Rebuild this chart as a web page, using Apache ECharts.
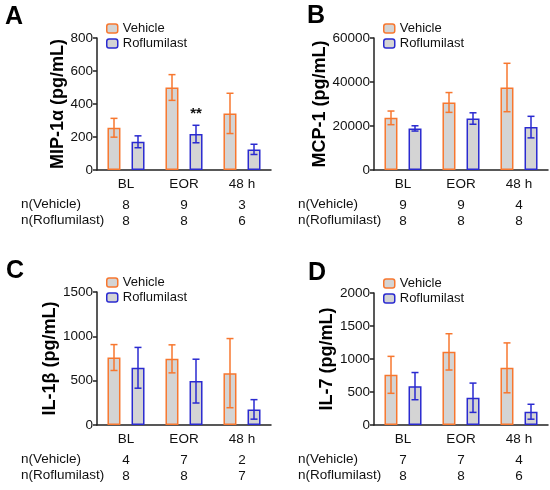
<!DOCTYPE html>
<html>
<head>
<meta charset="utf-8">
<script src="https://cdn.jsdelivr.net/npm/echarts@6/dist/echarts.min.js"></script>
<style>
  html, body { margin: 0; padding: 0; background: #fff; }
  #chart { width: 550px; height: 490px; }
</style>
</head>
<body>
<div id="chart"></div>
<script>
  // categories and values (mean, SEM)
  const cats = ['BL', 'EOR', '48 h']

  const mipVeh = [256, 500, 343]
  const mipVehErr = [57, 78, 122]
  const mipRof = [171, 218, 125]
  const mipRofErr = [36, 53, 31]
  const mipNVeh = [8, 9, 3]
  const mipNRof = [8, 8, 6]

  const mcpVeh = [23700, 30700, 37500]
  const mcpVehErr = [3100, 4500, 11000]
  const mcpRof = [18900, 23400, 19500]
  const mcpRofErr = [1200, 2600, 4900]
  const mcpNVeh = [9, 9, 4]
  const mcpNRof = [8, 8, 8]

  const il1Veh = [761, 746, 585]
  const il1VehErr = [146, 158, 390]
  const il1Rof = [645, 495, 176]
  const il1RofErr = [230, 247, 110]
  const il1NVeh = [4, 7, 2]
  const il1NRof = [8, 8, 7]

  const il7Veh = [760, 1108, 866]
  const il7VehErr = [280, 275, 378]
  const il7Rof = [589, 413, 201]
  const il7RofErr = [206, 222, 113]
  const il7NVeh = [7, 7, 4]
  const il7NRof = [8, 8, 6]

  const ORANGE = '#f7772f'
  const BLUE = '#2a2ad0'
  const GRAY = '#d4d4d4'
  const FONT = 'Arial, "Liberation Sans", sans-serif'

  const panels = [
    { tag: 'A', name: 'MIP-1α (pg/mL)', veh: mipVeh, vehErr: mipVehErr, rof: mipRof, rofErr: mipRofErr,
      nVeh: mipNVeh, nRof: mipNRof, max: 800, step: 200, sig: { 1: '**' },
      left: 97, top: 38, width: 174, height: 132, nameGap: 30, tagX: 5, tagY: 5 },
    { tag: 'B', name: 'MCP-1 (pg/mL)', veh: mcpVeh, vehErr: mcpVehErr, rof: mcpRof, rofErr: mcpRofErr,
      nVeh: mcpNVeh, nRof: mcpNRof, max: 60000, step: 20000, sig: {},
      left: 374, top: 38, width: 174, height: 132, nameGap: 38, tagX: 307, tagY: 4 },
    { tag: 'C', name: 'IL-1β (pg/mL)', veh: il1Veh, vehErr: il1VehErr, rof: il1Rof, rofErr: il1RofErr,
      nVeh: il1NVeh, nRof: il1NRof, max: 1500, step: 500, sig: {},
      left: 97, top: 292, width: 174, height: 133, nameGap: 30, tagX: 6, tagY: 259 },
    { tag: 'D', name: 'IL-7 (pg/mL)', veh: il7Veh, vehErr: il7VehErr, rof: il7Rof, rofErr: il7RofErr,
      nVeh: il7NVeh, nRof: il7NRof, max: 2000, step: 500, sig: {},
      left: 374, top: 293, width: 174, height: 132, nameGap: 38, tagX: 308, tagY: 261 }
  ]

  const OFFSET = 12

  function errRender (offset, color) {
    return function (params, api) {
      const x = api.value(0)
      const lo = api.coord([x, api.value(1)])
      const hi = api.coord([x, api.value(2)])
      const cx = lo[0] + offset
      const w = 3.5
      const style = { stroke: color, lineWidth: 1.5 }
      return {
        type: 'group',
        children: [
          { type: 'line', shape: { x1: cx, y1: hi[1], x2: cx, y2: lo[1] }, style },
          { type: 'line', shape: { x1: cx - w, y1: hi[1], x2: cx + w, y2: hi[1] }, style },
          { type: 'line', shape: { x1: cx - w, y1: lo[1], x2: cx + w, y2: lo[1] }, style }
        ]
      }
    }
  }

  const grid = []
  const xAxis = []
  const yAxis = []
  const series = []
  const legend = []
  const title = []
  const graphic = []

  panels.forEach((p, i) => {
    grid.push({ left: p.left, top: p.top, width: p.width, height: p.height })

    xAxis.push({
      type: 'category',
      gridIndex: i,
      data: cats,
      axisLine: { lineStyle: { color: '#222', width: 1.5 } },
      axisTick: { alignWithLabel: true, length: 4, lineStyle: { color: '#222', width: 1.5 } },
      axisLabel: {
        margin: 1,
        interval: 0,
        formatter: (v, idx) => `{c|${v}}\n{n|${p.nVeh[idx]}}\n{n|${p.nRof[idx]}}`,
        rich: {
          c: { fontFamily: FONT, fontSize: 13.5, color: '#111', lineHeight: 26 },
          n: { fontFamily: FONT, fontSize: 13.5, color: '#111', lineHeight: 16 }
        }
      }
    })

    yAxis.push({
      type: 'value',
      gridIndex: i,
      min: 0,
      max: p.max,
      interval: p.step,
      name: p.name,
      nameLocation: 'middle',
      nameGap: p.nameGap,
      nameTextStyle: { fontFamily: FONT, fontSize: 18, fontWeight: 'bold', color: '#000' },
      axisLine: { show: true, lineStyle: { color: '#222', width: 1.5 } },
      axisTick: { show: true, length: 4, lineStyle: { color: '#222', width: 1.5 } },
      axisLabel: { fontFamily: FONT, fontSize: 13.5, color: '#111', margin: 4, formatter: v => String(v) },
      splitLine: { show: false }
    })

    series.push({
      name: 'Vehicle',
      type: 'bar',
      xAxisIndex: i,
      yAxisIndex: i,
      barWidth: 13,
      barGap: '85%',
      data: p.veh,
      itemStyle: { color: GRAY, borderColor: ORANGE, borderWidth: 1.5 },
      emphasis: { disabled: true }
    })
    series.push({
      name: 'Roflumilast',
      type: 'bar',
      xAxisIndex: i,
      yAxisIndex: i,
      barWidth: 13,
      barGap: '85%',
      data: p.rof.map((v, k) => p.sig[k]
        ? { value: v, label: { show: true, position: 'top', distance: 13, formatter: p.sig[k],
            fontFamily: FONT, fontSize: 15, fontWeight: 'bold', color: '#111' } }
        : v),
      itemStyle: { color: GRAY, borderColor: BLUE, borderWidth: 1.5 },
      emphasis: { disabled: true }
    })
    series.push({
      type: 'custom',
      xAxisIndex: i,
      yAxisIndex: i,
      z: 5,
      renderItem: errRender(-OFFSET, ORANGE),
      data: p.veh.map((v, k) => [k, v - p.vehErr[k], v + p.vehErr[k]])
    })
    series.push({
      type: 'custom',
      xAxisIndex: i,
      yAxisIndex: i,
      z: 5,
      renderItem: errRender(OFFSET, BLUE),
      data: p.rof.map((v, k) => [k, v - p.rofErr[k], v + p.rofErr[k]])
    })

    legend.push({
      orient: 'vertical',
      left: p.left + 9,
      top: p.top - 16,
      padding: 0,
      itemWidth: 11,
      itemHeight: 9,
      itemGap: 2,
      selectedMode: false,
      textStyle: { fontFamily: FONT, fontSize: 13, color: '#111' },
      data: [
        { name: 'Vehicle', itemStyle: { color: GRAY, borderColor: ORANGE, borderWidth: 1.5 } },
        { name: 'Roflumilast', itemStyle: { color: GRAY, borderColor: BLUE, borderWidth: 1.5 } }
      ]
    })

    title.push({
      text: p.tag,
      left: p.tagX,
      top: p.tagY,
      padding: 0,
      textStyle: { fontFamily: FONT, fontSize: 25, fontWeight: 'bold', color: '#000' }
    })

    const rowX = p.left - 76
    const rowY = p.top + p.height + 34
    graphic.push(
      { type: 'text', left: rowX, top: rowY - 7,
        style: { text: 'n(Vehicle)', font: `13.5px ${FONT}`, fill: '#111' } },
      { type: 'text', left: rowX, top: rowY + 9,
        style: { text: 'n(Roflumilast)', font: `13.5px ${FONT}`, fill: '#111' } }
    )
  })

  const chart = echarts.init(document.getElementById('chart'))
  chart.setOption({
    animation: false,
    backgroundColor: '#fff',
    title,
    legend,
    grid,
    xAxis,
    yAxis,
    series,
    graphic
  })
</script>
</body>
</html>
